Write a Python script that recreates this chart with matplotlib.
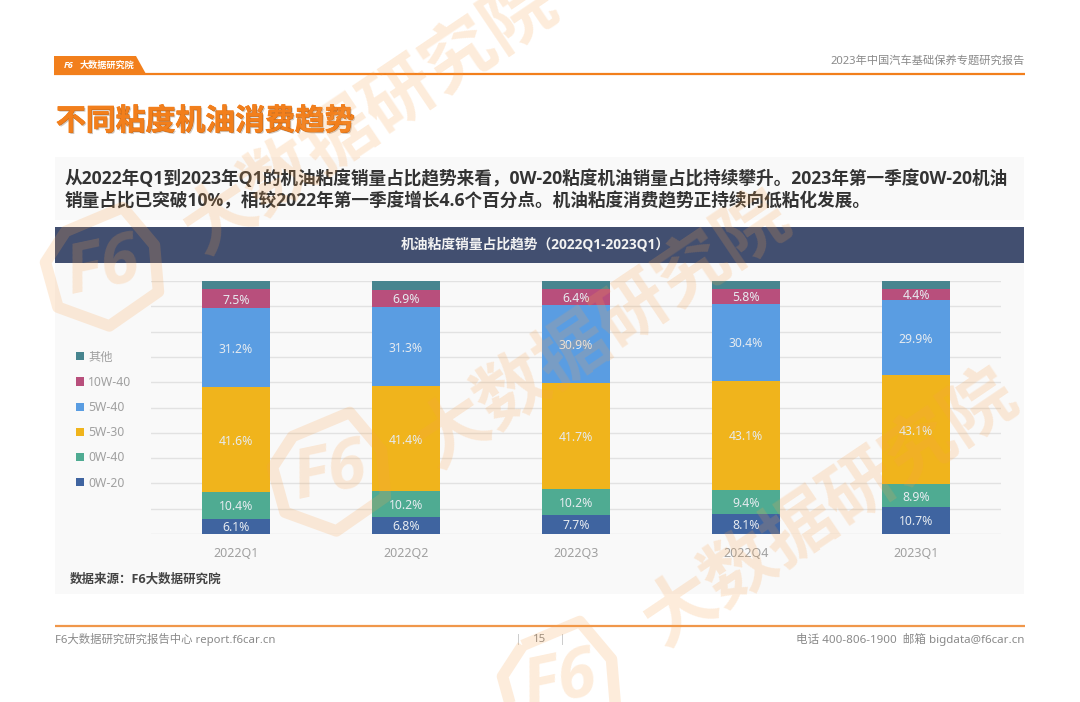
import matplotlib
matplotlib.use("Agg")
import matplotlib.pyplot as plt
from matplotlib.patches import Polygon, Rectangle
from matplotlib import patheffects as pe
from matplotlib.transforms import Affine2D

plt.rcParams["font.family"] = ["Noto Sans", "Noto Sans CJK SC", "DejaVu Sans"]
BOLD = ["Open Sans", "Noto Sans CJK SC", "DejaVu Sans"]

W, H = 1080, 702

quarters = ["2022Q1", "2022Q2", "2022Q3", "2022Q4", "2023Q1"]
series_names = ["0W-20", "0W-40", "5W-30", "5W-40", "10W-40", "其他"]
v_0w20 = [6.1, 6.8, 7.7, 8.1, 10.7]
v_0w40 = [10.4, 10.2, 10.2, 9.4, 8.9]
v_5w30 = [41.6, 41.4, 41.7, 43.1, 43.1]
v_5w40 = [31.2, 31.3, 30.9, 30.4, 29.9]
v_10w40 = [7.5, 6.9, 6.4, 5.8, 4.4]
v_other = [3.2, 3.4, 3.1, 3.4, 3.0]
series_values = [v_0w20, v_0w40, v_5w30, v_5w40, v_10w40, v_other]
colors = ["#3f64a0", "#4fab92", "#f0b41c", "#5a9de2", "#b84f7c", "#47858f"]

ORANGE = "#f27f1c"

fig = plt.figure(figsize=(W / 100, H / 100), dpi=100, facecolor="white")


def page_axes(zorder):
    ax = fig.add_axes([0, 0, 1, 1], zorder=zorder)
    ax.set_xlim(0, W)
    ax.set_ylim(H, 0)
    ax.axis("off")
    ax.patch.set_alpha(0)
    return ax


# ---- page furniture ----
page = page_axes(0)
page.add_patch(Rectangle((55, 157), 969, 63, color="#f9f9f9", lw=0))
page.add_patch(Rectangle((55, 263), 969, 331, color="#f9f9f9", lw=0))
page.add_patch(Rectangle((55, 227), 969, 36, color="#424f70", lw=0))
page.add_patch(Polygon([(54, 56), (136, 56), (146, 74), (54, 74)], color=ORANGE, lw=0))
page.plot([54, 1025], [74, 74], color=ORANGE, lw=1.6, solid_capstyle="butt")
page.plot([55, 1025], [626, 626], color="#f0974a", lw=1.6, solid_capstyle="butt")

page.text(80, 65.5, "大数据研究院", color="white", fontsize=6.6, fontweight="bold", family=BOLD, va="center")
page.text(69, 65.5, "F6", color="white", fontsize=6.5, fontweight="bold", family=BOLD, style="italic",
          va="center", ha="center")
page.text(1025, 61.5, "2023年中国汽车基础保养专题研究报告", color="#8a8a8a", fontsize=8.1,
          ha="right", va="center")

page.text(56, 122, "不同粘度机油消费趋势", color=ORANGE, fontsize=21.5, fontweight="bold", family=BOLD, va="center",
          path_effects=[pe.withStroke(linewidth=0.6, foreground=ORANGE),
                        pe.withSimplePatchShadow(offset=(1, -1), alpha=0.25)])

page.text(65, 179, "从2022年Q1到2023年Q1的机油粘度销量占比趋势来看，0W-20粘度机油销量占比持续攀升。2023年第一季度0W-20机油",
          color="#333333", fontsize=12.72, fontweight="bold", family=BOLD, va="center")
page.text(65, 201, "销量占比已突破10%，相较2022年第一季度增长4.6个百分点。机油粘度消费趋势正持续向低粘化发展。",
          color="#333333", fontsize=12.72, fontweight="bold", family=BOLD, va="center")
page.text(535, 244, "机油粘度销量占比趋势（2022Q1-2023Q1）", color="#f2f2f2", fontsize=9.95,
          fontweight="bold", family=BOLD, ha="center", va="center")
page.text(70, 579, "数据来源：F6大数据研究院", color="#444444", fontsize=9, fontweight="bold", family=BOLD, va="center")

page.text(55, 640, "F6大数据研究研究报告中心 report.f6car.cn", color="#8a8a8a", fontsize=8.2, va="center")
page.text(540, 639, "15", color="#8a8a8a", fontsize=8.2, ha="center", va="center")
page.plot([518, 518], [634, 644], color="#cccccc", lw=0.7)
page.plot([562, 562], [634, 644], color="#cccccc", lw=0.7)
page.text(1025, 640, "电话 400-806-1900  邮箱 bigdata@f6car.cn", color="#8a8a8a", fontsize=8.35,
          ha="right", va="center")

# ---- chart ----
left, right, top, bottom = 151, 1001, 281, 534
ax = fig.add_axes([left / W, 1 - bottom / H, (right - left) / W, (bottom - top) / H], zorder=1)
ax.patch.set_alpha(0)
ax.set_xlim(-0.5, 4.5)
ax.set_ylim(0, 100)
ax.set_axisbelow(True)
ax.set_yticks(range(0, 101, 10))
ax.grid(axis="y", color="#e2e2e2", lw=1)
ax.tick_params(length=0)
ax.tick_params(axis="y", labelleft=False)
ax.tick_params(axis="x", labelsize=9, labelcolor="#a0a0a0", pad=9.5)
for s in ax.spines.values():
    s.set_visible(False)

xs = range(len(quarters))
base = [0.0] * len(quarters)
handles = []
for name, vals, col in zip(series_names, series_values, colors):
    bars = ax.bar(xs, vals, 0.4, bottom=base, color=col, label=name)
    handles.append(bars)
    if name != "其他":
        for x, v, b in zip(xs, vals, base):
            ax.text(x, b + v / 2 - 0.6, f"{v:.1f}%", color="#e6ebf0", fontsize=8.8, ha="center", va="center")
    base = [b + v for b, v in zip(base, vals)]
ax.set_xticks(list(xs), quarters)

# legend drawn in the page's left margin, top entry first
leg = ax.legend(handles[::-1], series_names[::-1], loc="upper left", frameon=False,
                bbox_to_anchor=((76 - left) / (right - left), (top - 350.5) / (bottom - top) + 1),
                bbox_transform=ax.transAxes, fontsize=8.8, labelcolor="#a0a0a0",
                handlelength=0.65, handleheight=0.65, handletextpad=0.35, labelspacing=1.0,
                borderaxespad=0, borderpad=0)

# ---- watermark on top of everything ----
mark = page_axes(2)
WM = "#f9a24b"
WM_ALPHA = 0.2


def logo(cx, cy, size):
    rot = Affine2D().rotate_deg(-12).scale(size).translate(cx, cy) + mark.transData
    hexagon = [(-0.5, -0.75), (0.55, -0.95), (0.95, -0.2), (0.85, 0.6), (-0.1, 1.0), (-0.9, 0.5), (-0.95, -0.3)]
    mark.add_patch(Polygon(hexagon, closed=True, fill=False, edgecolor=WM, lw=size / 7,
                           alpha=WM_ALPHA, transform=rot, joinstyle="round"))
    mark.text(cx, cy, "F6", color=WM, alpha=WM_ALPHA, fontsize=size * 0.85, fontweight="bold",
              family=BOLD, style="italic", rotation=12, ha="center", va="center")


wm_text = "大数据研究院"
for cx, cy in [(372, 118), (605, 332), (832, 510)]:
    mark.text(cx, cy, wm_text, color=WM, alpha=WM_ALPHA, fontsize=52, fontweight="bold", family=BOLD,
              rotation=34, rotation_mode="anchor", ha="center", va="center")
for cx, cy in [(103, 268), (330, 473), (560, 682)]:
    logo(cx, cy, 58)

fig.savefig("out.png", dpi=100)
